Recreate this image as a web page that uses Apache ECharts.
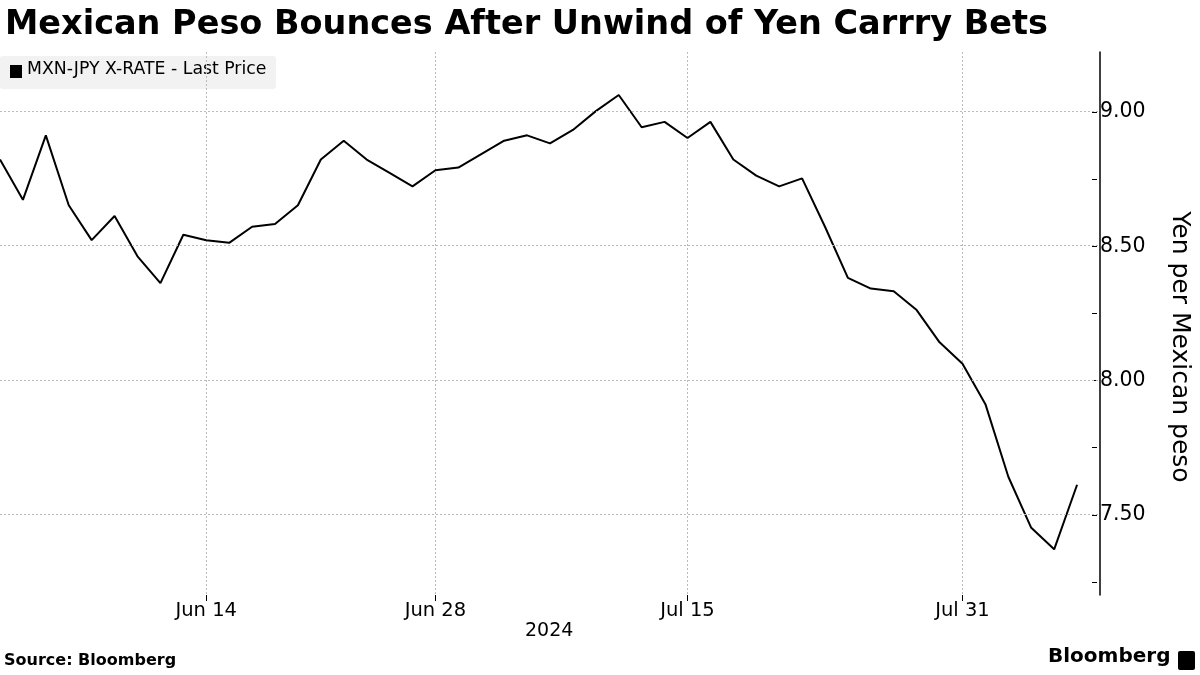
<!DOCTYPE html>
<html>
<head>
<meta charset="utf-8">
<script src="https://cdn.jsdelivr.net/npm/echarts@6/dist/echarts.min.js"></script>
<style>
  html, body { margin: 0; padding: 0; background: #fff; }
  #chart { width: 1200px; height: 675px; }
</style>
</head>
<body>
<div id="chart"></div>
<script>
// business days Jun 3 - Aug 7, 2024
var dates = [
  'Jun 3','Jun 4','Jun 5','Jun 6','Jun 7',
  'Jun 10','Jun 11','Jun 12','Jun 13','Jun 14',
  'Jun 17','Jun 18','Jun 19','Jun 20','Jun 21',
  'Jun 24','Jun 25','Jun 26','Jun 27','Jun 28',
  'Jul 1','Jul 2','Jul 3','Jul 4','Jul 5',
  'Jul 8','Jul 9','Jul 10','Jul 11','Jul 12',
  'Jul 15','Jul 16','Jul 17','Jul 18','Jul 19',
  'Jul 22','Jul 23','Jul 24','Jul 25','Jul 26',
  'Jul 29','Jul 30','Jul 31','Aug 1','Aug 2',
  'Aug 5','Aug 6','Aug 7', ''
];
var mxnJpy = [
  8.82, 8.67, 8.91, 8.65, 8.52,
  8.61, 8.46, 8.36, 8.54, 8.52,
  8.51, 8.57, 8.58, 8.65, 8.82,
  8.89, 8.82, 8.77, 8.72, 8.78,
  8.79, 8.84, 8.89, 8.91, 8.88,
  8.93, 9.00, 9.06, 8.94, 8.96,
  8.90, 8.96, 8.82, 8.76, 8.72,
  8.75, 8.57, 8.38, 8.34, 8.33,
  8.26, 8.14, 8.06, 7.91, 7.64,
  7.45, 7.37, 7.61
];
var dateLabels = ['Jun 14', 'Jun 28', 'Jul 15', 'Jul 31'];
var gridValues = [7.5, 8.0, 8.5, 9.0];

var FONT = 'DejaVu Sans';
var showAt = function (i, v) { return dateLabels.indexOf(v) >= 0; };

var chart = echarts.init(document.getElementById('chart'));
chart.setOption({
  animation: false,
  textStyle: { fontFamily: FONT },
  title: {
    text: 'Mexican Peso Bounces After Unwind of Yen Carrry Bets',
    left: 0, top: 3,
    textStyle: { fontFamily: FONT, fontWeight: 'bold', fontSize: 33.5, color: '#000' }
  },
  graphic: [
    { type: 'rect', left: 0, top: 56, shape: { width: 276, height: 33, r: 3 }, style: { fill: '#f2f2f2' } },
    { type: 'rect', left: 10, top: 65, shape: { width: 12, height: 13 }, style: { fill: '#000' } },
    { type: 'text', left: 27, top: 61, style: { text: 'MXN-JPY X-RATE - Last Price', font: '17.3px "DejaVu Sans"', fill: '#000' } },
    { type: 'text', left: 525, top: 622, style: { text: '2024', font: '19px "DejaVu Sans"', fill: '#000' } },
    { type: 'text', left: 4, top: 653, style: { text: 'Source: Bloomberg', font: 'bold 16px "DejaVu Sans"', fill: '#000' } },
    { type: 'text', left: 1048, top: 647, style: { text: 'Bloomberg', font: 'bold 20px "DejaVu Sans"', fill: '#000' } },
    { type: 'rect', left: 1178, top: 651, shape: { width: 17, height: 19, r: 2 }, style: { fill: '#000' } }
  ],
  grid: [
    { left: 0, right: 100, top: 52, bottom: 80 },
    { left: 0, right: 100, top: 112, bottom: 93 }
  ],
  xAxis: [{
    gridIndex: 0,
    type: 'category',
    boundaryGap: false,
    data: dates,
    axisLine: { show: false },
    axisTick: { show: true, interval: showAt, length: 6, lineStyle: { color: '#000' } },
    axisLabel: { interval: showAt, color: '#000', fontSize: 19.5, margin: 6 },
    splitLine: { show: true, interval: showAt, lineStyle: { color: '#bbb', type: [2, 2] } }
  }, {
    gridIndex: 1, type: 'category', data: dates, show: false
  }],
  yAxis: [{
    gridIndex: 0,
    type: 'value',
    position: 'right',
    min: 7.2, max: 9.22,
    axisLine: { show: true, lineStyle: { color: '#000', width: 1.5 } },
    axisTick: { show: false },
    axisLabel: { show: false },
    splitLine: { show: false }
  }, {
    gridIndex: 1,
    type: 'value',
    position: 'right',
    min: 7.25, max: 9.0, interval: 0.25,
    name: 'Yen per Mexican peso',
    nameLocation: 'middle',
    nameRotate: -90,
    nameGap: 75,
    nameTextStyle: { fontSize: 25, color: '#000' },
    axisLine: { show: false },
    axisTick: { show: true, length: 5, lineStyle: { color: '#000' } },
    axisLabel: {
      color: '#000', fontSize: 20.5, margin: 8,
      formatter: function (v) { return Math.round(v * 100) % 50 === 0 ? v.toFixed(2) : ''; }
    },
    splitLine: { show: false }
  }],
  series: [{
    name: 'MXN-JPY X-RATE - Last Price',
    type: 'line',
    xAxisIndex: 0, yAxisIndex: 0,
    data: mxnJpy,
    symbol: 'none',
    lineStyle: { color: '#000', width: 2 },
    markLine: {
      silent: true,
      symbol: 'none',
      label: { show: false },
      lineStyle: { color: '#bbb', type: [2, 2], width: 1 },
      data: gridValues.map(function (v) { return { yAxis: v }; })
    }
  }]
});
</script>
</body>
</html>
